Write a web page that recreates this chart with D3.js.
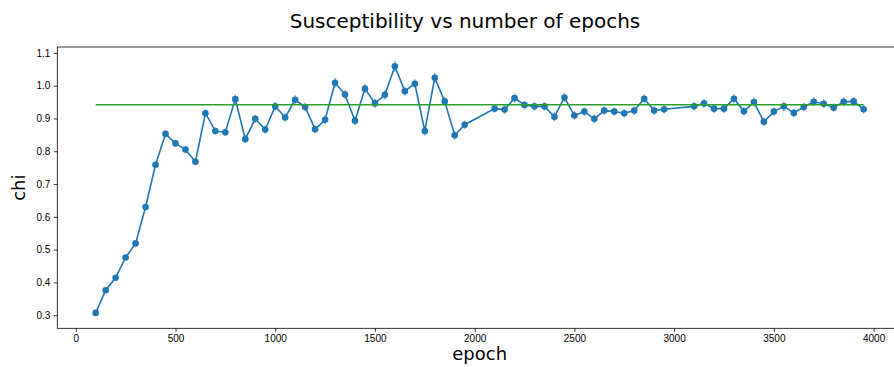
<!DOCTYPE html>
<html>
<head>
<meta charset="utf-8">
<script src="https://cdn.jsdelivr.net/npm/d3@7"></script>
<style>
  body { margin: 0; background: #fff; }
  svg { display: block; font-family: 'DejaVu Sans', sans-serif; }
  .tick text { font-size: 10px; fill: #000; }
</style>
</head>
<body>
<div id="chart"></div>
<script>
// epochs sampled, with the two gaps seen in the plot
const epochs = [
	100, 150, 200, 250, 300, 350, 400, 450, 500, 550, 600, 650, 700, 750, 800, 850, 900, 950,
	1000, 1050, 1100, 1150, 1200, 1250, 1300, 1350, 1400, 1450, 1500, 1550, 1600, 1650, 1700,
	1750, 1800, 1850, 1900, 1950,
	2100, 2150, 2200, 2250, 2300, 2350, 2400, 2450, 2500, 2550, 2600, 2650, 2700, 2750, 2800,
	2850, 2900, 2950,
	3100, 3150, 3200, 3250, 3300, 3350, 3400, 3450, 3500, 3550, 3600, 3650, 3700, 3750, 3800,
	3850, 3900, 3950,
];
const chi = [
	0.307, 0.376, 0.414, 0.476, 0.519, 0.630, 0.759, 0.853, 0.824, 0.805, 0.768, 0.916, 0.862, 0.858, 0.959, 0.837, 0.899, 0.866,
	0.937, 0.903, 0.957, 0.935, 0.867, 0.896, 1.009, 0.973, 0.893, 0.991, 0.946, 0.972, 1.059, 0.983, 1.006,
	0.862, 1.024, 0.952, 0.849, 0.881,
	0.930, 0.927, 0.962, 0.941, 0.937, 0.937, 0.905, 0.964, 0.909, 0.921, 0.899, 0.924, 0.921, 0.916, 0.924,
	0.960, 0.924, 0.928,
	0.937, 0.946, 0.930, 0.930, 0.960, 0.922, 0.950, 0.890, 0.921, 0.937, 0.917, 0.935, 0.951, 0.945, 0.933,
	0.951, 0.952, 0.928,
];
const chiErr = [
	0.004, 0.005, 0.005, 0.006, 0.006, 0.007, 0.008, 0.010, 0.010, 0.011, 0.011, 0.012, 0.011, 0.012, 0.014, 0.012, 0.012, 0.012,
	0.014, 0.013, 0.014, 0.013, 0.013, 0.013, 0.015, 0.014, 0.013, 0.014, 0.014, 0.014, 0.017, 0.014, 0.014,
	0.014, 0.015, 0.014, 0.014, 0.013,
	0.013, 0.013, 0.014, 0.014, 0.013, 0.013, 0.014, 0.014, 0.013, 0.013, 0.013, 0.013, 0.013, 0.013, 0.013,
	0.014, 0.013, 0.013,
	0.013, 0.014, 0.013, 0.013, 0.014, 0.013, 0.014, 0.013, 0.013, 0.014, 0.013, 0.013, 0.014, 0.014, 0.013,
	0.014, 0.014, 0.013,
];
const meanChi = 0.942;
const xTicks = [0, 500, 1000, 1500, 2000, 2500, 3000, 3500, 4000];
const yTicks = [0.3, 0.4, 0.5, 0.6, 0.7, 0.8, 0.9, 1.0, 1.1];

const W = 894, H = 367;
const box = { left: 57.3, right: 902, top: 47, bottom: 328.3 };
const blue = '#1f77b4', green = '#2ca02c';

const svg = d3.select('#chart').append('svg').attr('width', W).attr('height', H);

const x = d3.scaleLinear().domain([-92.5, 4142.5]).range([box.left, box.right]);
const y = d3.scaleLinear().domain([0.26, 1.118]).range([box.bottom, box.top]);

const data = epochs.map((e, i) => ({ e, v: chi[i], err: chiErr[i] }));

// axes
svg.append('g')
	.attr('transform', `translate(0,${box.bottom})`)
	.call(d3.axisBottom(x).tickValues(xTicks).tickFormat(d3.format('d')).tickSize(3.5).tickPadding(3.5))
	.call((g) => g.select('.domain').remove())
	.call((g) => g.selectAll('.tick line').attr('stroke', '#000').attr('stroke-width', 0.8));

svg.append('g')
	.attr('transform', `translate(${box.left},0)`)
	.call(d3.axisLeft(y).tickValues(yTicks).tickFormat(d3.format('.1f')).tickSize(3.5).tickPadding(3.5))
	.call((g) => g.select('.domain').remove())
	.call((g) => g.selectAll('.tick line').attr('stroke', '#000').attr('stroke-width', 0.8));

// spines
svg.append('rect')
	.attr('x', box.left).attr('y', box.top)
	.attr('width', box.right - box.left).attr('height', box.bottom - box.top)
	.attr('fill', 'none').attr('stroke', '#000').attr('stroke-width', 0.8);

// error bars
svg.append('g').selectAll('line')
	.data(data)
	.enter()
	.append('line')
	.attr('x1', (d) => x(d.e)).attr('x2', (d) => x(d.e))
	.attr('y1', (d) => y(d.v - d.err)).attr('y2', (d) => y(d.v + d.err))
	.attr('stroke', blue).attr('stroke-opacity', 0.55).attr('stroke-width', 1.5);

// main line
svg.append('path')
	.datum(data)
	.attr('fill', 'none')
	.attr('stroke', blue)
	.attr('stroke-width', 1.6)
	.attr('d', d3.line().x((d) => x(d.e)).y((d) => y(d.v)));

svg.append('g').selectAll('circle')
	.data(data)
	.enter()
	.append('circle')
	.attr('cx', (d) => x(d.e)).attr('cy', (d) => y(d.v))
	.attr('r', 3.3)
	.attr('fill', blue);

// mean line
svg.append('line')
	.attr('x1', x(epochs[0])).attr('x2', x(epochs[epochs.length - 1]))
	.attr('y1', y(meanChi)).attr('y2', y(meanChi))
	.attr('stroke', green).attr('stroke-width', 1.5);

// texts
svg.append('text')
	.attr('x', 465).attr('y', 28)
	.attr('text-anchor', 'middle')
	.style('font-size', '20px')
	.text('Susceptibility vs number of epochs');

svg.append('text')
	.attr('x', (box.left + box.right) / 2).attr('y', 360)
	.attr('text-anchor', 'middle')
	.style('font-size', '18px')
	.text('epoch');

svg.append('text')
	.attr('transform', `translate(25,${(box.top + box.bottom) / 2}) rotate(-90)`)
	.attr('text-anchor', 'middle')
	.style('font-size', '18px')
	.text('chi');
</script>
</body>
</html>
